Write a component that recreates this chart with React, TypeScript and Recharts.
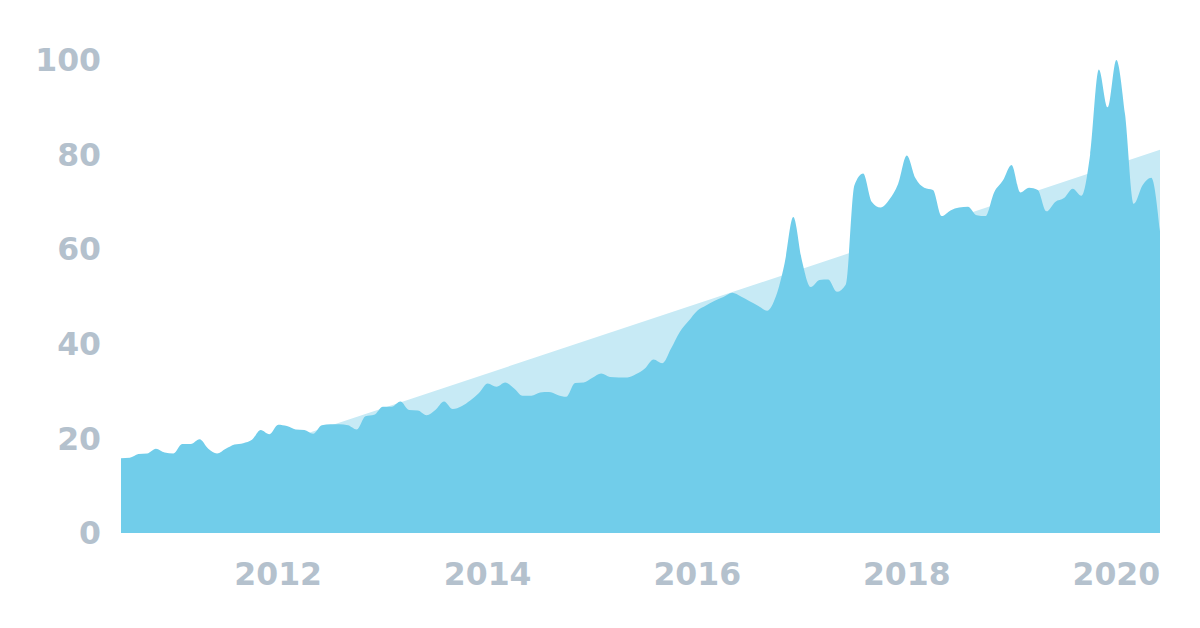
import { Area, AreaChart, XAxis, YAxis } from 'recharts';

// monthly values, first month is July 2010
const startYear = 2010.5;
const monthlyValues = [
	15.8, 15.9, 16.7, 16.8, 17.8, 17.0, 16.8, 18.8, 18.8, 19.8, 17.8, 16.8,
	17.8, 18.7, 19.0, 19.7, 21.8, 20.9, 22.9, 22.6, 21.9, 21.8, 21.0, 22.8,
	23.0, 23.0, 22.8, 21.9, 24.7, 25.0, 26.7, 26.7, 27.8, 26.0, 25.9, 24.9,
	26.0, 27.8, 26.2, 26.8, 28.0, 29.6, 31.6, 30.9, 31.8, 30.6, 29.0, 29.0,
	29.7, 29.8, 29.2, 28.8, 31.7, 31.8, 32.8, 33.7, 33.0, 32.9, 32.9, 33.6,
	34.8, 36.7, 35.9, 39.0, 42.5, 44.8, 47.0, 48.1, 49.1, 49.9, 50.8, 50.0,
	49.0, 48.0, 47.0, 50.0, 57.0, 66.8, 57.5, 52.0, 53.5, 53.6, 51.0, 52.5,
	73.5, 76.0, 70.0, 68.8, 70.5, 73.8, 79.8, 75.0, 73.0, 72.5, 67.0, 68.2,
	68.8, 69.0, 67.2, 67.0, 72.0, 74.5, 77.8, 72.0, 73.0, 72.5, 68.0, 70.0,
	70.8, 72.8, 71.3, 80.0, 98.0, 90.0, 100.0, 88.5, 69.6, 73.5, 75.1, 63.8,
];

// trend line at the first and last month
const trendValues = [8, 81];

const yearTicks = [2012, 2014, 2016, 2018, 2020];
const valueTicks = [0, 20, 40, 60, 80, 100];

const endYear = startYear + (monthlyValues.length - 1) / 12;

const data = monthlyValues.map((value, i) => ({
	date: startYear + i / 12,
	value,
}));

const trendData = [
	{ date: startYear, trend: trendValues[0] },
	{ date: endYear, trend: trendValues[1] },
];

const tickStyle = {
	fill: '#b4c1cd',
	fontFamily: 'DejaVu Sans',
	fontWeight: 'bold',
	fontSize: 31.5,
};

const App = () => {
	return (
		<div style={{ position: 'absolute', left: 0, top: 0 }}>
			<AreaChart
				width={1200}
				height={628}
				data={data}
				margin={{ top: 60, right: 40, bottom: 35, left: 0 }}
			>
				<XAxis
					dataKey="date"
					type="number"
					domain={[startYear, endYear]}
					ticks={yearTicks}
					axisLine={false}
					tickLine={false}
					tickSize={0}
					tickMargin={30}
					height={60}
					tick={tickStyle}
					allowDataOverflow
				/>
				<YAxis
					type="number"
					domain={[0, 100]}
					ticks={valueTicks}
					axisLine={false}
					tickLine={false}
					tickSize={0}
					tickMargin={20}
					width={121}
					tick={tickStyle}
				/>
				<Area
					data={trendData}
					dataKey="trend"
					type="linear"
					stroke="none"
					fill="#c7eaf5"
					fillOpacity={1}
					isAnimationActive={false}
				/>
				<Area
					dataKey="value"
					type="monotone"
					stroke="none"
					fill="#71cdea"
					fillOpacity={1}
					isAnimationActive={false}
				/>
			</AreaChart>
		</div>
	);
};

export default App;
